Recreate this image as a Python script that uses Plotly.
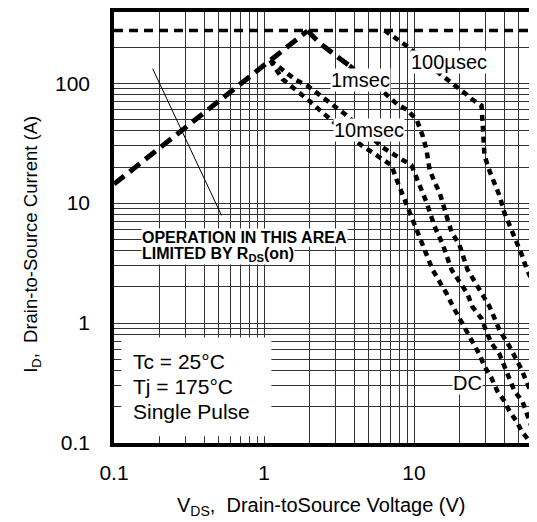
import math
import plotly.graph_objects as go

# ---------------- data ----------------
# package current limit (A)
ID_LIMIT = 275
LIMIT_V = [0.1, 80]

# R_DS(on) limited region
RDS_V = [0.1, 1.95]
RDS_I = [14.4, 273]

# 100 usec
US100_V = [6.36, 8.0, 8.9, 15.5, 19.2, 21.7, 24.5, 28.2, 28.8, 29.5, 31.9, 34.4, 37.2,
           40.1, 44.7, 48.2, 52.8, 56.2, 61.6, 66, 75]
US100_I = [275, 225, 205, 115, 95, 83, 73, 65, 42, 25, 18.5, 14.5, 11.5,
           8.3, 6.0, 4.6, 3.6, 2.85, 2.2, 1.8, 1.3]

# 1 msec
MS1_V = [1.95, 2.34, 2.95, 3.71, 6.36, 7.76, 8.91, 10.4, 11.4, 12.1, 12.7, 13.7, 14.8,
         16.7, 17.8, 20.1, 22.7, 25.5, 28.6, 31.9, 37.2, 43.3, 52.1, 58.9, 66, 75]
MS1_I = [273, 217, 173, 140, 83, 66.4, 60.3, 49.8, 36.7, 28, 19.1, 15, 12.3,
         7.4, 5.74, 4.48, 2.8, 2.2, 1.76, 1.37, 0.87, 0.64, 0.41, 0.29, 0.2, 0.15]

# 10 msec
MS10_V = [1.1, 1.62, 1.95, 2.86, 3.49, 6.17, 7.08, 8.26, 9.62, 10.55, 12.1, 13.1, 13.7,
          15.5, 16.5, 17.8, 20.1, 22.7, 24.5, 28.2, 30.4, 32.9, 37.2, 40.1, 43.3, 46.8,
          52.8, 56.2, 58.9, 64, 68]
MS10_I = [155, 107, 95, 65, 54.8, 29.2, 26.5, 23.2, 20.7, 15.8, 10.2, 7.6, 6.4,
          4.57, 3.56, 2.78, 2.21, 1.76, 1.37, 1.09, 0.85, 0.676, 0.548, 0.436, 0.347, 0.27,
          0.223, 0.184, 0.152, 0.114, 0.098]

# DC
DC_V = [1.1, 1.33, 2.04, 2.45, 4.47, 5.21, 6.17, 7.08, 7.64, 8.26, 9.05, 11.4, 12.3,
        13.3, 14.8, 16.5, 18.2, 20.1, 22.4, 24.5, 27.3, 29.5, 32.9, 36.0, 40.1, 43.3,
        48.2, 52.1, 57.1, 60]
DC_I = [155, 108, 70, 57, 30.3, 26.5, 23.2, 20.7, 15.8, 12.3, 9.6, 4.57, 3.56,
        2.78, 2.21, 1.76, 1.37, 1.09, 0.85, 0.676, 0.548, 0.436, 0.347, 0.27, 0.223, 0.184,
        0.152, 0.126, 0.108, 0.1]

X_TICKS = [0.1, 1, 10]
X_TICKTEXT = ["0.1", "1", "10"]
Y_TICKS = [0.1, 1, 10, 100]
Y_TICKTEXT = ["0.1", "1", "10", "100"]

X_RANGE = [0.1, 74.7]
Y_RANGE = [0.1, 392]

FONT = "Liberation Sans, Arial, Helvetica, sans-serif"
GRID = "#333333"

x_minor = [m * 10 ** d for d in (-1, 0, 1) for m in range(2, 10) if m * 10 ** d < X_RANGE[1]]
y_minor = [m * 10 ** d for d in (-1, 0, 1) for m in range(2, 10)] + [200]

fig = go.Figure()


def add_line(x, y, dash, width):
    fig.add_trace(go.Scatter(x=x, y=y, mode="lines", showlegend=False, hoverinfo="skip",
                             line=dict(color="black", width=width, dash=dash)))


add_line(LIMIT_V, [ID_LIMIT] * len(LIMIT_V), "9px,6px", 3.5)
add_line(RDS_V, RDS_I, "13px,7px", 5)
add_line(US100_V, US100_I, "6px,5px", 4.5)
add_line(MS1_V[:4], MS1_I[:4], "13px,7px", 5)
add_line(MS1_V[3:], MS1_I[3:], "6px,5px", 4.5)
add_line(MS10_V, MS10_I, "6px,5px", 4.5)
add_line(DC_V, DC_I, "6px,5px", 4.5)

# white box behind the conditions text
fig.add_shape(type="rect", xref="x", yref="y", x0=0.112, x1=1.12, y0=0.114, y1=0.758,
              fillcolor="white", line=dict(width=0), layer="above")
# leader line of the R_DS(on) note
fig.add_shape(type="line", xref="x", yref="y", x0=0.181, y0=132, x1=0.521, y1=7.9,
              line=dict(color="black", width=1), layer="above")


def ann(text, lx, ly, size=20, xanchor="center", bg="white"):
    fig.add_annotation(x=lx, y=ly, xref="x", yref="y", text=text, showarrow=False,
                       xanchor=xanchor, yanchor="middle", bgcolor=bg, borderpad=0,
                       font=dict(family=FONT, size=size, color="black"))


L = math.log10
ann("100µsec", L(17.0), 2.175)
ann("1msec", L(4.40), 2.03)
ann("10msec", L(5.05), 1.61)
ann("DC", L(22.8), -0.5)
ann("<b>OPERATION IN THIS AREA</b>", L(0.1525), 0.71, size=16, xanchor="left")
ann("<b>LIMITED BY R<sub>DS</sub>(on)</b>", L(0.1525), 0.575, size=16, xanchor="left")
ann("Tc = 25°C", L(0.1328), -0.32, size=21, xanchor="left", bg=None)
ann("Tj = 175°C", L(0.1328), -0.527, size=21, xanchor="left", bg=None)
ann("Single Pulse", L(0.1328), -0.734, size=21, xanchor="left", bg=None)

# axis titles
fig.add_annotation(x=0.48, y=-0.148, xref="paper", yref="paper", showarrow=False,
                   text="V<sub>DS</sub>,  Drain-toSource Voltage (V)", xanchor="center",
                   yanchor="middle", font=dict(family=FONT, size=20, color="black"))
fig.add_annotation(x=-0.19, y=0.46, xref="paper", yref="paper", showarrow=False,
                   text="I<sub>D</sub>,  Drain-to-Source Current (A)", textangle=-90,
                   xanchor="center", yanchor="middle",
                   font=dict(family=FONT, size=18.5, color="black"))

fig.update_xaxes(type="log", range=[L(X_RANGE[0]), L(X_RANGE[1])],
                 tickvals=X_TICKS, ticktext=X_TICKTEXT, ticks="outside", ticklen=8,
                 tickcolor="rgba(0,0,0,0)", showgrid=True, gridcolor=GRID, gridwidth=1,
                 minor=dict(tickvals=x_minor, showgrid=True, gridcolor=GRID, gridwidth=1,
                            ticks=""),
                 showline=True, linecolor="black", linewidth=3.5, mirror=True,
                 zeroline=False, tickfont=dict(family=FONT, size=21, color="black"))
fig.update_yaxes(type="log", range=[L(Y_RANGE[0]), L(Y_RANGE[1])],
                 tickvals=Y_TICKS, ticktext=Y_TICKTEXT, ticks="outside", ticklen=16,
                 tickcolor="rgba(0,0,0,0)", showgrid=True, gridcolor=GRID, gridwidth=1,
                 minor=dict(tickvals=y_minor, showgrid=True, gridcolor=GRID, gridwidth=1,
                            ticks=""),
                 showline=True, linecolor="black", linewidth=3.5, mirror=False,
                 zeroline=False, tickfont=dict(family=FONT, size=21, color="black"))

# the page adds an 8 px body margin, so the margins here are reduced by that amount
fig.update_layout(width=537, height=522, margin=dict(l=106, r=0, t=1, b=87),
                  paper_bgcolor="white", plot_bgcolor="white", showlegend=False)

fig.write_html("out.html")
